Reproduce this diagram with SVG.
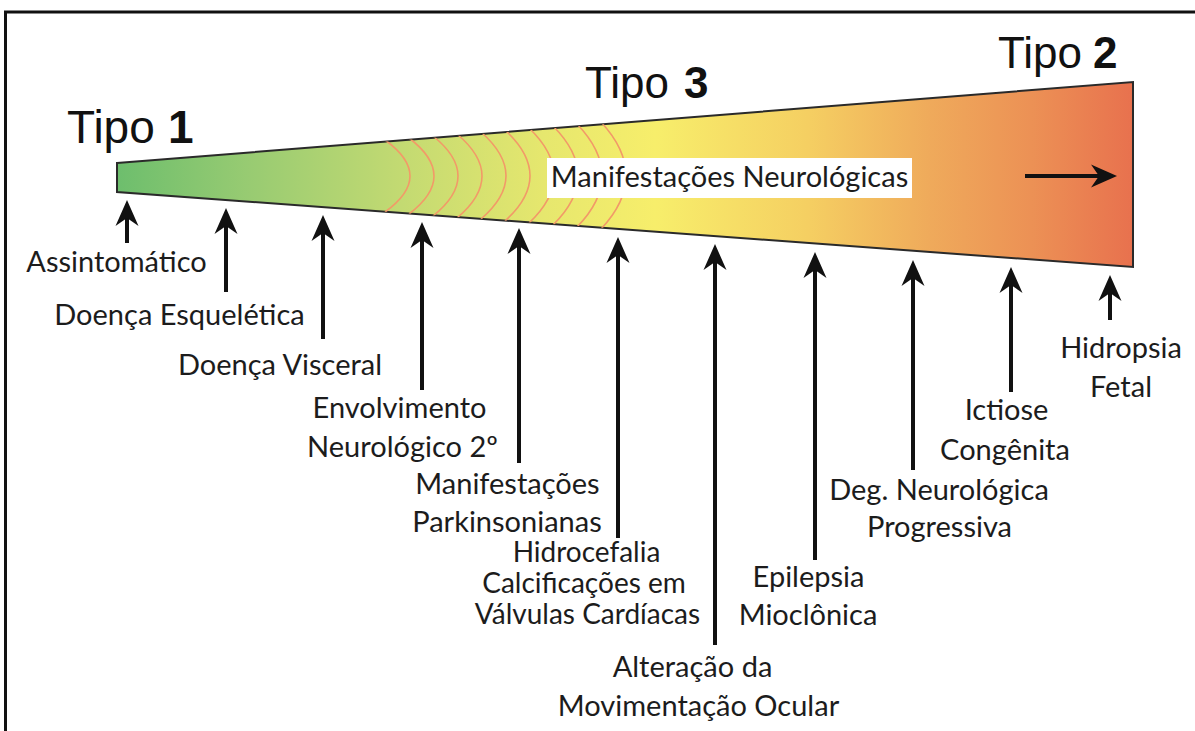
<svg xmlns="http://www.w3.org/2000/svg" width="1195" height="731" viewBox="0 0 1195 731">
<style>
.lbl{font-family:Lato,"Open Sans","Liberation Sans",sans-serif;font-size:29px;fill:#1c1c1c;text-anchor:middle}
.tight{font-size:28px}
.tipo{font-family:"Liberation Sans",Arial,sans-serif;font-size:44px;fill:#111}
.num{font-weight:bold}
.arr{stroke:#111;stroke-width:4;fill:none;marker-end:url(#head)}
.arc{stroke:#f29a68;stroke-width:1.6;fill:none}
</style>
<defs>
<linearGradient id="grad" gradientUnits="userSpaceOnUse" x1="117" y1="0" x2="1133" y2="0">
<stop offset="0" stop-color="#6dbe6d"/>
<stop offset="0.13" stop-color="#98cb72"/>
<stop offset="0.28" stop-color="#c3da72"/>
<stop offset="0.42" stop-color="#e6e76e"/>
<stop offset="0.53" stop-color="#f7ee6b"/>
<stop offset="0.68" stop-color="#f5cf62"/>
<stop offset="0.80" stop-color="#efaa5b"/>
<stop offset="0.90" stop-color="#ec9155"/>
<stop offset="1" stop-color="#e8714e"/>
</linearGradient>
<clipPath id="funnelClip">
<path d="M117,163 L1133,82 L1133,267 L117,192 Z"/>
</clipPath>
<marker id="head" viewBox="0 -12 26 24" markerWidth="26" markerHeight="24" markerUnits="userSpaceOnUse" refX="10" refY="0" orient="auto">
<path d="M26,0 L0,-11.5 L8,0 L0,11.5 Z" fill="#111"/>
</marker>
</defs>
<rect width="1195" height="731" fill="#fff"/>
<path d="M5.5,731 V12 H1195" fill="none" stroke="#111" stroke-width="3"/>

<g id="funnel">
<path d="M117,163 L1133,82 L1133,267 L117,192 Z" fill="url(#grad)" stroke="#2a2a2a" stroke-width="2"/>
<g clip-path="url(#funnelClip)">
<path class="arc" d="M385,140 Q435,176 385,212"/>
<path class="arc" d="M409,138 Q459,176 409,214"/>
<path class="arc" d="M433,136 Q483,176 433,216"/>
<path class="arc" d="M457,134 Q507,176 457,218"/>
<path class="arc" d="M481,132 Q531,176 481,219"/>
<path class="arc" d="M505,130 Q555,176 505,221"/>
<path class="arc" d="M529,128 Q579,176 529,223"/>
<path class="arc" d="M553,126 Q603,176 553,225"/>
<path class="arc" d="M577,124 Q627,176 577,227"/>
<path class="arc" d="M601,122 Q651,176 601,229"/>
</g>
</g>

<g id="neuro-box">
<rect x="547" y="158" width="365" height="40" fill="#fff"/>
<text class="lbl" x="729.5" y="187">Manifestações Neurológicas</text>
</g>

<g id="tipo1"><text class="tipo" x="67" y="143" style="font-size:46px">Tipo<tspan class="num" x="168">1</tspan></text></g>
<g id="tipo3"><text class="tipo" x="585" y="98">Tipo<tspan class="num" x="684">3</tspan></text></g>
<g id="tipo2"><text class="tipo" x="998" y="68">Tipo<tspan class="num" x="1093">2</tspan></text></g>

<g id="connectors">
<line class="arr" x1="1025" y1="176" x2="1101" y2="176"/>
<line class="arr" x1="127" y1="243" x2="127" y2="216"/>
<line class="arr" x1="226" y1="292" x2="226" y2="224"/>
<line class="arr" x1="323" y1="339" x2="323" y2="231"/>
<line class="arr" x1="422" y1="390" x2="422" y2="238"/>
<line class="arr" x1="519" y1="463" x2="519" y2="244"/>
<line class="arr" x1="618" y1="538" x2="618" y2="253"/>
<line class="arr" x1="715" y1="645" x2="715" y2="260"/>
<line class="arr" x1="815" y1="560" x2="815" y2="268"/>
<line class="arr" x1="913" y1="470" x2="913" y2="276"/>
<line class="arr" x1="1011" y1="392" x2="1011" y2="283"/>
<line class="arr" x1="1110" y1="320" x2="1110" y2="291"/>
</g>

<g id="n-assintomatico"><text class="lbl" x="116.5" y="272">Assintomático</text></g>
<g id="n-esqueletica"><text class="lbl" x="179.5" y="325">Doença Esquelética</text></g>
<g id="n-visceral"><text class="lbl" x="280" y="375">Doença Visceral</text></g>
<g id="n-envolvimento"><text class="lbl" x="399.5" y="418">Envolvimento</text><text class="lbl" x="402.5" y="457">Neurológico 2º</text></g>
<g id="n-parkinson"><text class="lbl" x="507.5" y="494">Manifestações</text><text class="lbl" x="507" y="532">Parkinsonianas</text></g>
<g id="n-hidrocefalia"><text class="lbl tight" x="586.5" y="562">Hidrocefalia</text><text class="lbl tight" x="584" y="593">Calcificações em</text><text class="lbl tight" x="587.5" y="624">Válvulas Cardíacas</text></g>
<g id="n-ocular"><text class="lbl" x="692.5" y="677">Alteração da</text><text class="lbl" x="698.5" y="716">Movimentação Ocular</text></g>
<g id="n-epilepsia"><text class="lbl" x="808.5" y="587">Epilepsia</text><text class="lbl" x="808" y="625">Mioclônica</text></g>
<g id="n-deg"><text class="lbl" x="939" y="500">Deg. Neurológica</text><text class="lbl" x="939.5" y="537">Progressiva</text></g>
<g id="n-ictiose"><text class="lbl" x="1006.5" y="420">Ictiose</text><text class="lbl" x="1005" y="460">Congênita</text></g>
<g id="n-hidropsia"><text class="lbl" x="1121" y="358">Hidropsia</text><text class="lbl" x="1121" y="397">Fetal</text></g>
</svg>
